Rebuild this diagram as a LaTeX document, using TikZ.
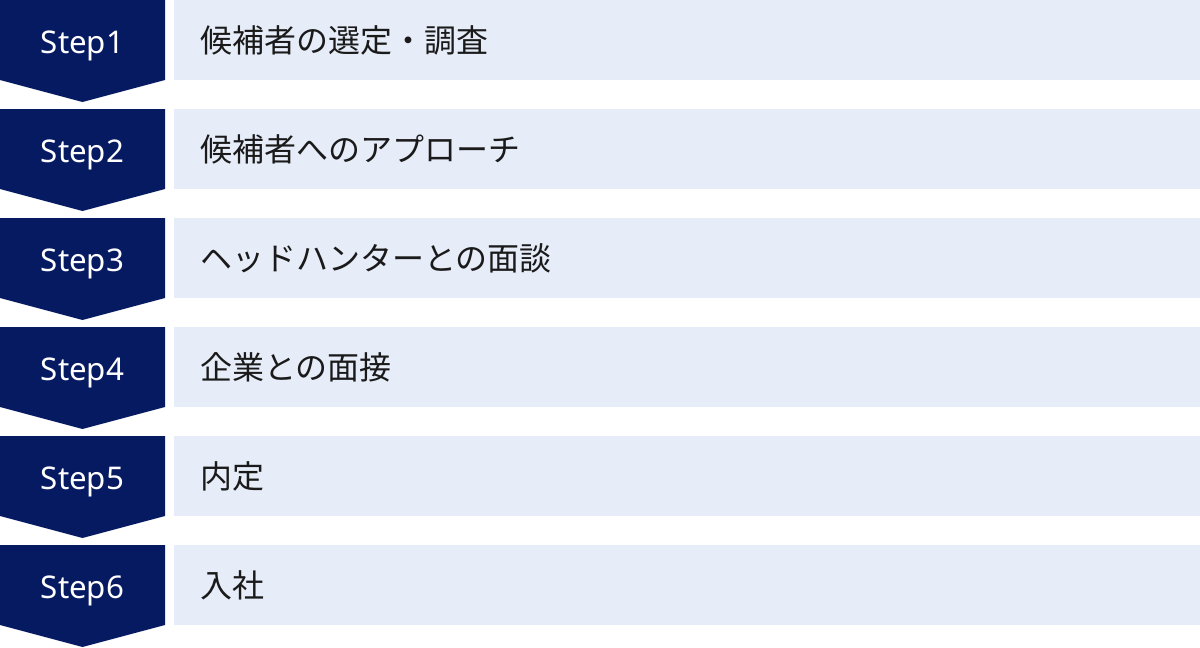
\documentclass[tikz,border=0pt]{standalone}
\usepackage{fontspec}
\setmainfont{Noto Sans}
\newfontfamily\jpfont{Noto Sans CJK JP}
\definecolor{stepnavy}{HTML}{061A62}
\definecolor{rowblue}{HTML}{E6ECF8}
\definecolor{rowink}{HTML}{1A1A1A}

\begin{document}
\begin{tikzpicture}[x=0.02cm,y=-0.02cm,
  steplabel/.style={text=white, font=\fontsize{17.8}{21}\selectfont, anchor=base, inner sep=0},
  rowtext/.style={text=rowink, font=\jpfont\fontsize{18.2}{22}\selectfont, anchor=west, inner sep=0}]

\useasboundingbox (0,0) rectangle (1200,647);

% step 1
\fill[stepnavy] (0,0) -- (165,0) -- (165,80) -- (82.5,102) -- (0,80) -- cycle;
\fill[rowblue] (174,0) rectangle (1200,80);
\node[steplabel] (step1) at (82.5,53.3) {Step1};
\node[rowtext] (task1) at (200,40) {候補者の選定・調査};

% step 2
\fill[stepnavy] (0,109) -- (165,109) -- (165,189) -- (82.5,211) -- (0,189) -- cycle;
\fill[rowblue] (174,109) rectangle (1200,189);
\node[steplabel] (step2) at (82.5,162.3) {Step2};
\node[rowtext] (task2) at (200,149) {候補者へのアプローチ};

% step 3
\fill[stepnavy] (0,218) -- (165,218) -- (165,298) -- (82.5,320) -- (0,298) -- cycle;
\fill[rowblue] (174,218) rectangle (1200,298);
\node[steplabel] (step3) at (82.5,271.3) {Step3};
\node[rowtext] (task3) at (200,258) {ヘッドハンターとの面談};

% step 4
\fill[stepnavy] (0,327) -- (165,327) -- (165,407) -- (82.5,429) -- (0,407) -- cycle;
\fill[rowblue] (174,327) rectangle (1200,407);
\node[steplabel] (step4) at (82.5,380.3) {Step4};
\node[rowtext] (task4) at (200,367) {企業との面接};

% step 5
\fill[stepnavy] (0,436) -- (165,436) -- (165,516) -- (82.5,538) -- (0,516) -- cycle;
\fill[rowblue] (174,436) rectangle (1200,516);
\node[steplabel] (step5) at (82.5,489.3) {Step5};
\node[rowtext] (task5) at (200,476) {内定};

% step 6
\fill[stepnavy] (0,545) -- (165,545) -- (165,625) -- (82.5,647) -- (0,625) -- cycle;
\fill[rowblue] (174,545) rectangle (1200,625);
\node[steplabel] (step6) at (82.5,598.3) {Step6};
\node[rowtext] (task6) at (200,585) {入社};

\end{tikzpicture}
\end{document}
